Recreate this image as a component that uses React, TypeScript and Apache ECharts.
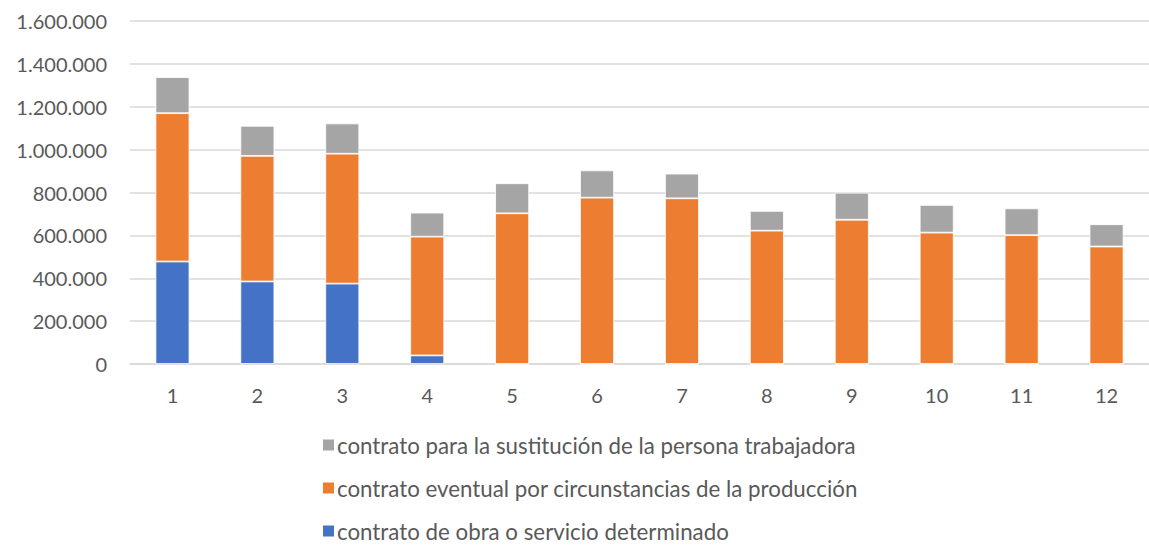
import React, { useEffect, useRef } from "react";
import * as echarts from "echarts";

const categories = ["1", "2", "3", "4", "5", "6", "7", "8", "9", "10", "11", "12"];
const obraServicio = [478000, 385000, 375000, 40000, 0, 0, 0, 0, 0, 0, 0, 0];
const eventual = [692000, 586000, 606000, 554000, 703000, 776000, 773000, 622000, 673000, 613000, 601000, 548000];
const sustitucion = [168000, 140000, 141000, 112000, 140000, 127000, 115000, 92000, 126000, 129000, 125000, 104000];
const seriesNames = [
  "contrato de obra o servicio determinado",
  "contrato eventual por circunstancias de la producción",
  "contrato para la sustitución de la persona trabajadora",
];
const colors = ["#4472C4", "#ED7D31", "#A5A5A5"];

const fmt = (v: number) => String(Math.round(v)).replace(/\B(?=(\d{3})+(?!\d))/g, ".");

export default function App() {
  const ref = useRef<HTMLDivElement>(null);
  useEffect(() => {
    if (!ref.current) return;
    const chart = echarts.init(ref.current, undefined, { renderer: "svg" });
    const font = "Lato, 'Liberation Sans', Arial, sans-serif";
    const data = [obraServicio, eventual, sustitucion];
    chart.setOption({
      animation: false,
      textStyle: { fontFamily: font },
      grid: { left: 130, top: 21, width: 1023, bottom: 185, containLabel: false },
      legend: {
        orient: "vertical",
        left: 316,
        top: 429,
        height: 116,
        padding: [5, 5, 0, 5],
        itemWidth: 13,
        itemHeight: 13,
        itemGap: 21,
        icon: "rect",
        data: [seriesNames[2], seriesNames[1], seriesNames[0]],
        textStyle: {
          color: "#595959",
          fontSize: 22.3,
          lineHeight: 22,
          fontFamily: font,
          padding: [0, 0, 0, -3],
        },
      },
      xAxis: {
        type: "category",
        data: categories,
        axisLine: { lineStyle: { color: "#D9D9D9", width: 1.5 } },
        axisTick: { show: false },
        axisLabel: { color: "#595959", fontSize: 20, margin: 21, fontFamily: font },
      },
      yAxis: {
        type: "value",
        min: 0,
        max: 1600000,
        interval: 200000,
        axisLine: { show: false },
        axisTick: { show: false },
        splitLine: { lineStyle: { color: "#D9D9D9", width: 1.5 } },
        axisLabel: { color: "#595959", fontSize: 20, margin: 23, fontFamily: font, formatter: fmt },
      },
      series: data.map((d, i) => ({
        name: seriesNames[i],
        type: "bar",
        stack: "total",
        barWidth: "40%",
        data: d,
        itemStyle: { color: colors[i], borderColor: "#FFFFFF", borderWidth: 0.8 },
      })),
    });
    return () => chart.dispose();
  }, []);
  return (
    <div
      ref={ref}
      style={{ position: "fixed", left: 0, top: 0, width: 1149, height: 549, background: "#fff" }}
    />
  );
}
